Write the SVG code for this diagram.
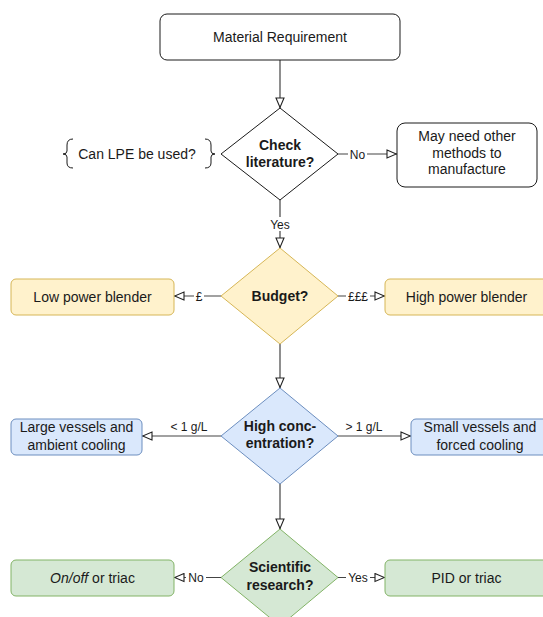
<svg xmlns="http://www.w3.org/2000/svg" width="543" height="617" viewBox="0 0 543 617">
<style>
text{font-family:"Liberation Sans",Arial,sans-serif;fill:#1a1a1a;text-anchor:middle}
.t13{font-size:14px}
.b14{font-size:14px;font-weight:bold}
.l11{font-size:12px}
.plain{fill:#fff;stroke:#1a1a1a;stroke-width:1}
.yel{fill:#fff2cc;stroke:#d6b656;stroke-width:1}
.blu{fill:#dae8fc;stroke:#6c8ebf;stroke-width:1}
.grn{fill:#d5e8d4;stroke:#82b366;stroke-width:1}
.edge{fill:none;stroke:#444;stroke-width:1.2;marker-end:url(#arr)}
.bg{fill:#fff}
</style>
<defs>
<marker id="arr" viewBox="0 0 11 10" refX="11" refY="5" markerWidth="11" markerHeight="10" orient="auto" markerUnits="userSpaceOnUse">
<path d="M1,1 L10.4,5 L1,9 Z" fill="#fff" stroke="#222" stroke-width="1.1"/>
</marker>
</defs>
<rect width="543" height="617" fill="#fff"/>

<g id="connectors">
<path class="edge" d="M280,60 V108"/>
<path class="edge" d="M338,154 H397"/>
<path class="edge" d="M280,200 V248"/>
<path class="edge" d="M221,296 H174"/>
<path class="edge" d="M338,296 H385"/>
<path class="edge" d="M280,344 V388"/>
<path class="edge" d="M221,436 H142"/>
<path class="edge" d="M338,436 H411"/>
<path class="edge" d="M280,484 V529"/>
<path class="edge" d="M221,577.5 H174"/>
<path class="edge" d="M338,577.5 H385"/>
<g id="edge-labels">
<rect class="bg" x="348" y="147" width="19" height="14"/>
<text class="l11" x="357.5" y="158.5">No</text>
<rect class="bg" x="269" y="217" width="22" height="14"/>
<text class="l11" x="280" y="228.5">Yes</text>
<rect class="bg" x="194" y="289" width="10" height="14"/>
<text class="l11" x="199" y="300.5">£</text>
<rect class="bg" x="346" y="289" width="24" height="14"/>
<text class="l11" x="358" y="300.5">£££</text>
<text class="l11" x="189" y="431">&lt; 1 g/L</text>
<text class="l11" x="364" y="431">&gt; 1 g/L</text>
<rect class="bg" x="186" y="570.5" width="20" height="14"/>
<text class="l11" x="196" y="582">No</text>
<rect class="bg" x="346" y="570.5" width="24" height="14"/>
<text class="l11" x="358" y="582">Yes</text>
</g>
</g>

<g id="material-requirement">
<rect class="plain" x="160" y="14" width="240" height="46" rx="7"/>
<text class="t13" x="280" y="42">Material Requirement</text>
</g>

<g id="can-lpe-note">
<path d="M73,139 Q67,139 67,145 L67,151 Q67,154 63,154 Q67,154 67,157 L67,163 Q67,168 73,168" fill="none" stroke="#1a1a1a" stroke-width="1"/>
<path d="M205,139 Q211,139 211,145 L211,151 Q211,154 215,154 Q211,154 211,157 L211,163 Q211,168 205,168" fill="none" stroke="#1a1a1a" stroke-width="1"/>
<text class="t13" x="137" y="159">Can LPE be used?</text>
</g>

<g id="check-literature">
<polygon class="plain" points="280,108 338,154 280,200 221,154"/>
<text class="b14" x="280" y="150">Check</text>
<text class="b14" x="280" y="167">literature?</text>
</g>

<g id="other-methods">
<rect class="plain" x="397" y="123" width="140" height="64" rx="8"/>
<text class="t13" x="467" y="141">May need other</text>
<text class="t13" x="467" y="157.5">methods to</text>
<text class="t13" x="467" y="174">manufacture</text>
</g>

<g id="budget">
<polygon class="yel" points="280,248 338,296 280,344 221,296"/>
<text class="b14" x="280" y="301">Budget?</text>
</g>

<g id="low-power">
<rect class="yel" x="11" y="279" width="163" height="36" rx="5"/>
<text class="t13" x="92.5" y="302">Low power blender</text>
</g>

<g id="high-power">
<rect class="yel" x="385" y="279" width="163" height="36" rx="5"/>
<text class="t13" x="466.5" y="302">High power blender</text>
</g>

<g id="high-concentration">
<polygon class="blu" points="280,388 338,436 280,484 221,436"/>
<text class="b14" x="280" y="431">High conc-</text>
<text class="b14" x="280" y="448">entration?</text>
</g>

<g id="large-vessels">
<rect class="blu" x="11" y="419" width="131" height="36" rx="5"/>
<text class="t13" x="76.5" y="432">Large vessels and</text>
<text class="t13" x="76.5" y="449.5">ambient cooling</text>
</g>

<g id="small-vessels">
<rect class="blu" x="411" y="419" width="138" height="36" rx="5"/>
<text class="t13" x="480" y="432">Small vessels and</text>
<text class="t13" x="480" y="449.5">forced cooling</text>
</g>

<g id="scientific-research">
<polygon class="grn" points="280,529 338,577.5 280,626 221,577.5"/>
<text class="b14" x="280" y="572">Scientific</text>
<text class="b14" x="280" y="589.5">research?</text>
</g>

<g id="on-off">
<rect class="grn" x="11" y="560" width="163" height="36" rx="5"/>
<text class="t13" x="92.5" y="582.5"><tspan font-style="italic">On/off</tspan> or triac</text>
</g>

<g id="pid">
<rect class="grn" x="385" y="560" width="163" height="36" rx="5"/>
<text class="t13" x="466.5" y="582.5">PID or triac</text>
</g>
</svg>
